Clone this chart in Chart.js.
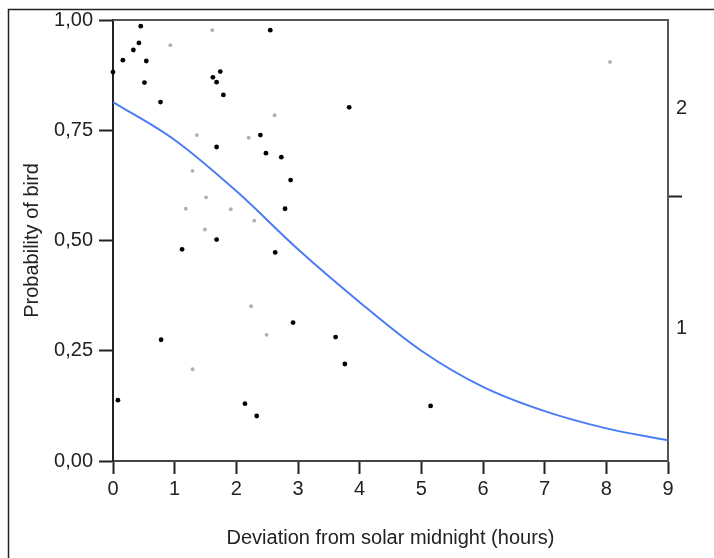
<!DOCTYPE html>
<html>
<head>
<meta charset="utf-8">
<script src="https://cdn.jsdelivr.net/npm/chart.js@4"></script>
<style>
  html, body { margin: 0; padding: 0; background: #fff; overflow: hidden; }
  #wrap { position: relative; width: 714px; height: 558px; }
</style>
</head>
<body>
<div id="wrap"><canvas id="birdChart" width="714" height="558"></canvas></div>
<script>
// observations, black = one group, grey = the other
const blackX = [0.0, 0.45, 0.42, 0.33, 0.16, 0.54, 0.51, 0.77, 2.55, 1.74, 1.62, 1.68, 1.79, 2.39, 1.68, 2.48, 2.73, 2.88, 2.79, 1.68, 1.12, 2.63, 3.83, 0.78, 0.08, 2.14, 2.33, 2.92, 3.61, 3.76, 5.15];
const blackY = [0.882, 0.986, 0.948, 0.932, 0.909, 0.907, 0.858, 0.814, 0.977, 0.883, 0.870, 0.859, 0.830, 0.739, 0.712, 0.698, 0.689, 0.637, 0.572, 0.502, 0.480, 0.473, 0.802, 0.275, 0.138, 0.130, 0.102, 0.314, 0.281, 0.220, 0.125];
const greyX = [1.61, 0.93, 2.62, 1.36, 2.20, 1.29, 1.51, 1.18, 1.91, 2.29, 1.49, 2.24, 2.49, 1.29, 8.06];
const greyY = [0.977, 0.943, 0.784, 0.739, 0.733, 0.658, 0.598, 0.572, 0.571, 0.545, 0.525, 0.351, 0.286, 0.208, 0.905];

// fitted curve
const curveX = [0, 1, 2, 3, 4, 5, 6, 7, 8, 9];
const curveY = [0.814, 0.728, 0.612, 0.48, 0.36, 0.25, 0.168, 0.113, 0.074, 0.047];

const leftTicks = [0, 0.25, 0.5, 0.75, 1];
const rightTicks = [0.3, 0.6, 0.8];
const rightLabels = ['1', '', '2'];

const toPoints = (xs, ys) => xs.map((x, i) => ({ x: x, y: ys[i] }));

const ink = '#222';
const font = { family: '"Liberation Sans", Arial, sans-serif', size: 20 };

// outer frame + top edge of the plot box
const framePlugin = {
    id: 'frame',
    afterDraw(chart) {
        const c = chart.ctx;
        const a = chart.chartArea;
        c.save();
        c.strokeStyle = ink;
        c.lineWidth = 1.5;
        c.beginPath();
        c.moveTo(8.5, 560);
        c.lineTo(8.5, 9.5);
        c.lineTo(720, 9.5);
        c.stroke();
        c.strokeStyle = '#555';
        c.lineWidth = 2;
        c.beginPath();
        c.moveTo(a.left, a.top);
        c.lineTo(a.right, a.top);
        c.stroke();
        c.restore();
    }
};

new Chart(document.getElementById('birdChart'), {
    type: 'scatter',
    data: {
        datasets: [
            {
                type: 'line',
                data: toPoints(curveX, curveY),
                borderColor: '#4a7cf6',
                borderWidth: 2,
                pointRadius: 0,
                cubicInterpolationMode: 'monotone',
                fill: false,
                order: 3
            },
            {
                data: toPoints(greyX, greyY),
                backgroundColor: '#b0b0b0',
                borderWidth: 0,
                pointRadius: 1.9,
                clip: false,
                order: 2
            },
            {
                data: toPoints(blackX, blackY),
                backgroundColor: '#000',
                borderWidth: 0,
                pointRadius: 2.4,
                clip: false,
                order: 1
            }
        ]
    },
    options: {
        responsive: false,
        animation: false,
        layout: { padding: { top: 20, left: 0, right: 0, bottom: 0 } },
        plugins: { legend: { display: false }, tooltip: { enabled: false } },
        scales: {
            x: {
                type: 'linear',
                min: 0, max: 9,
                afterFit: s => { s.height = 97; },
                ticks: { stepSize: 1, color: ink, font: font, padding: 3, maxRotation: 0 },
                grid: { drawOnChartArea: false, tickLength: 13, tickColor: ink, tickWidth: 2 },
                border: { color: '#444', width: 2 },
                title: { display: true, text: 'Deviation from solar midnight (hours)', color: ink, font: font, padding: { top: 4, bottom: 8 } }
            },
            y: {
                type: 'linear',
                min: 0, max: 1,
                afterFit: s => { s.width = 113; },
                afterBuildTicks: s => { s.ticks = leftTicks.map(v => ({ value: v })); },
                ticks: { color: ink, font: font, padding: 6, callback: v => v.toFixed(2).replace('.', ',') },
                grid: { drawOnChartArea: false, tickLength: 14, tickColor: ink, tickWidth: 2 },
                border: { color: '#222', width: 2 },
                title: { display: true, text: 'Probability of bird', color: ink, font: font, padding: { top: 20, bottom: 4 } }
            },
            y2: {
                type: 'linear',
                position: 'right',
                display: true,
                min: 0, max: 1,
                afterFit: s => { s.width = 46; },
                afterBuildTicks: s => { s.ticks = rightTicks.map(v => ({ value: v })); },
                ticks: { color: ink, font: font, padding: -6, callback: (v, i) => rightLabels[i] },
                grid: {
                    drawOnChartArea: false,
                    tickLength: 14,
                    tickWidth: 2,
                    tickColor: ctx => (ctx.tick && ctx.tick.value === 0.6) ? ink : 'rgba(0,0,0,0)'
                },
                border: { color: '#555', width: 2 }
            }
        }
    },
    plugins: [framePlugin]
});
</script>
</body>
</html>
